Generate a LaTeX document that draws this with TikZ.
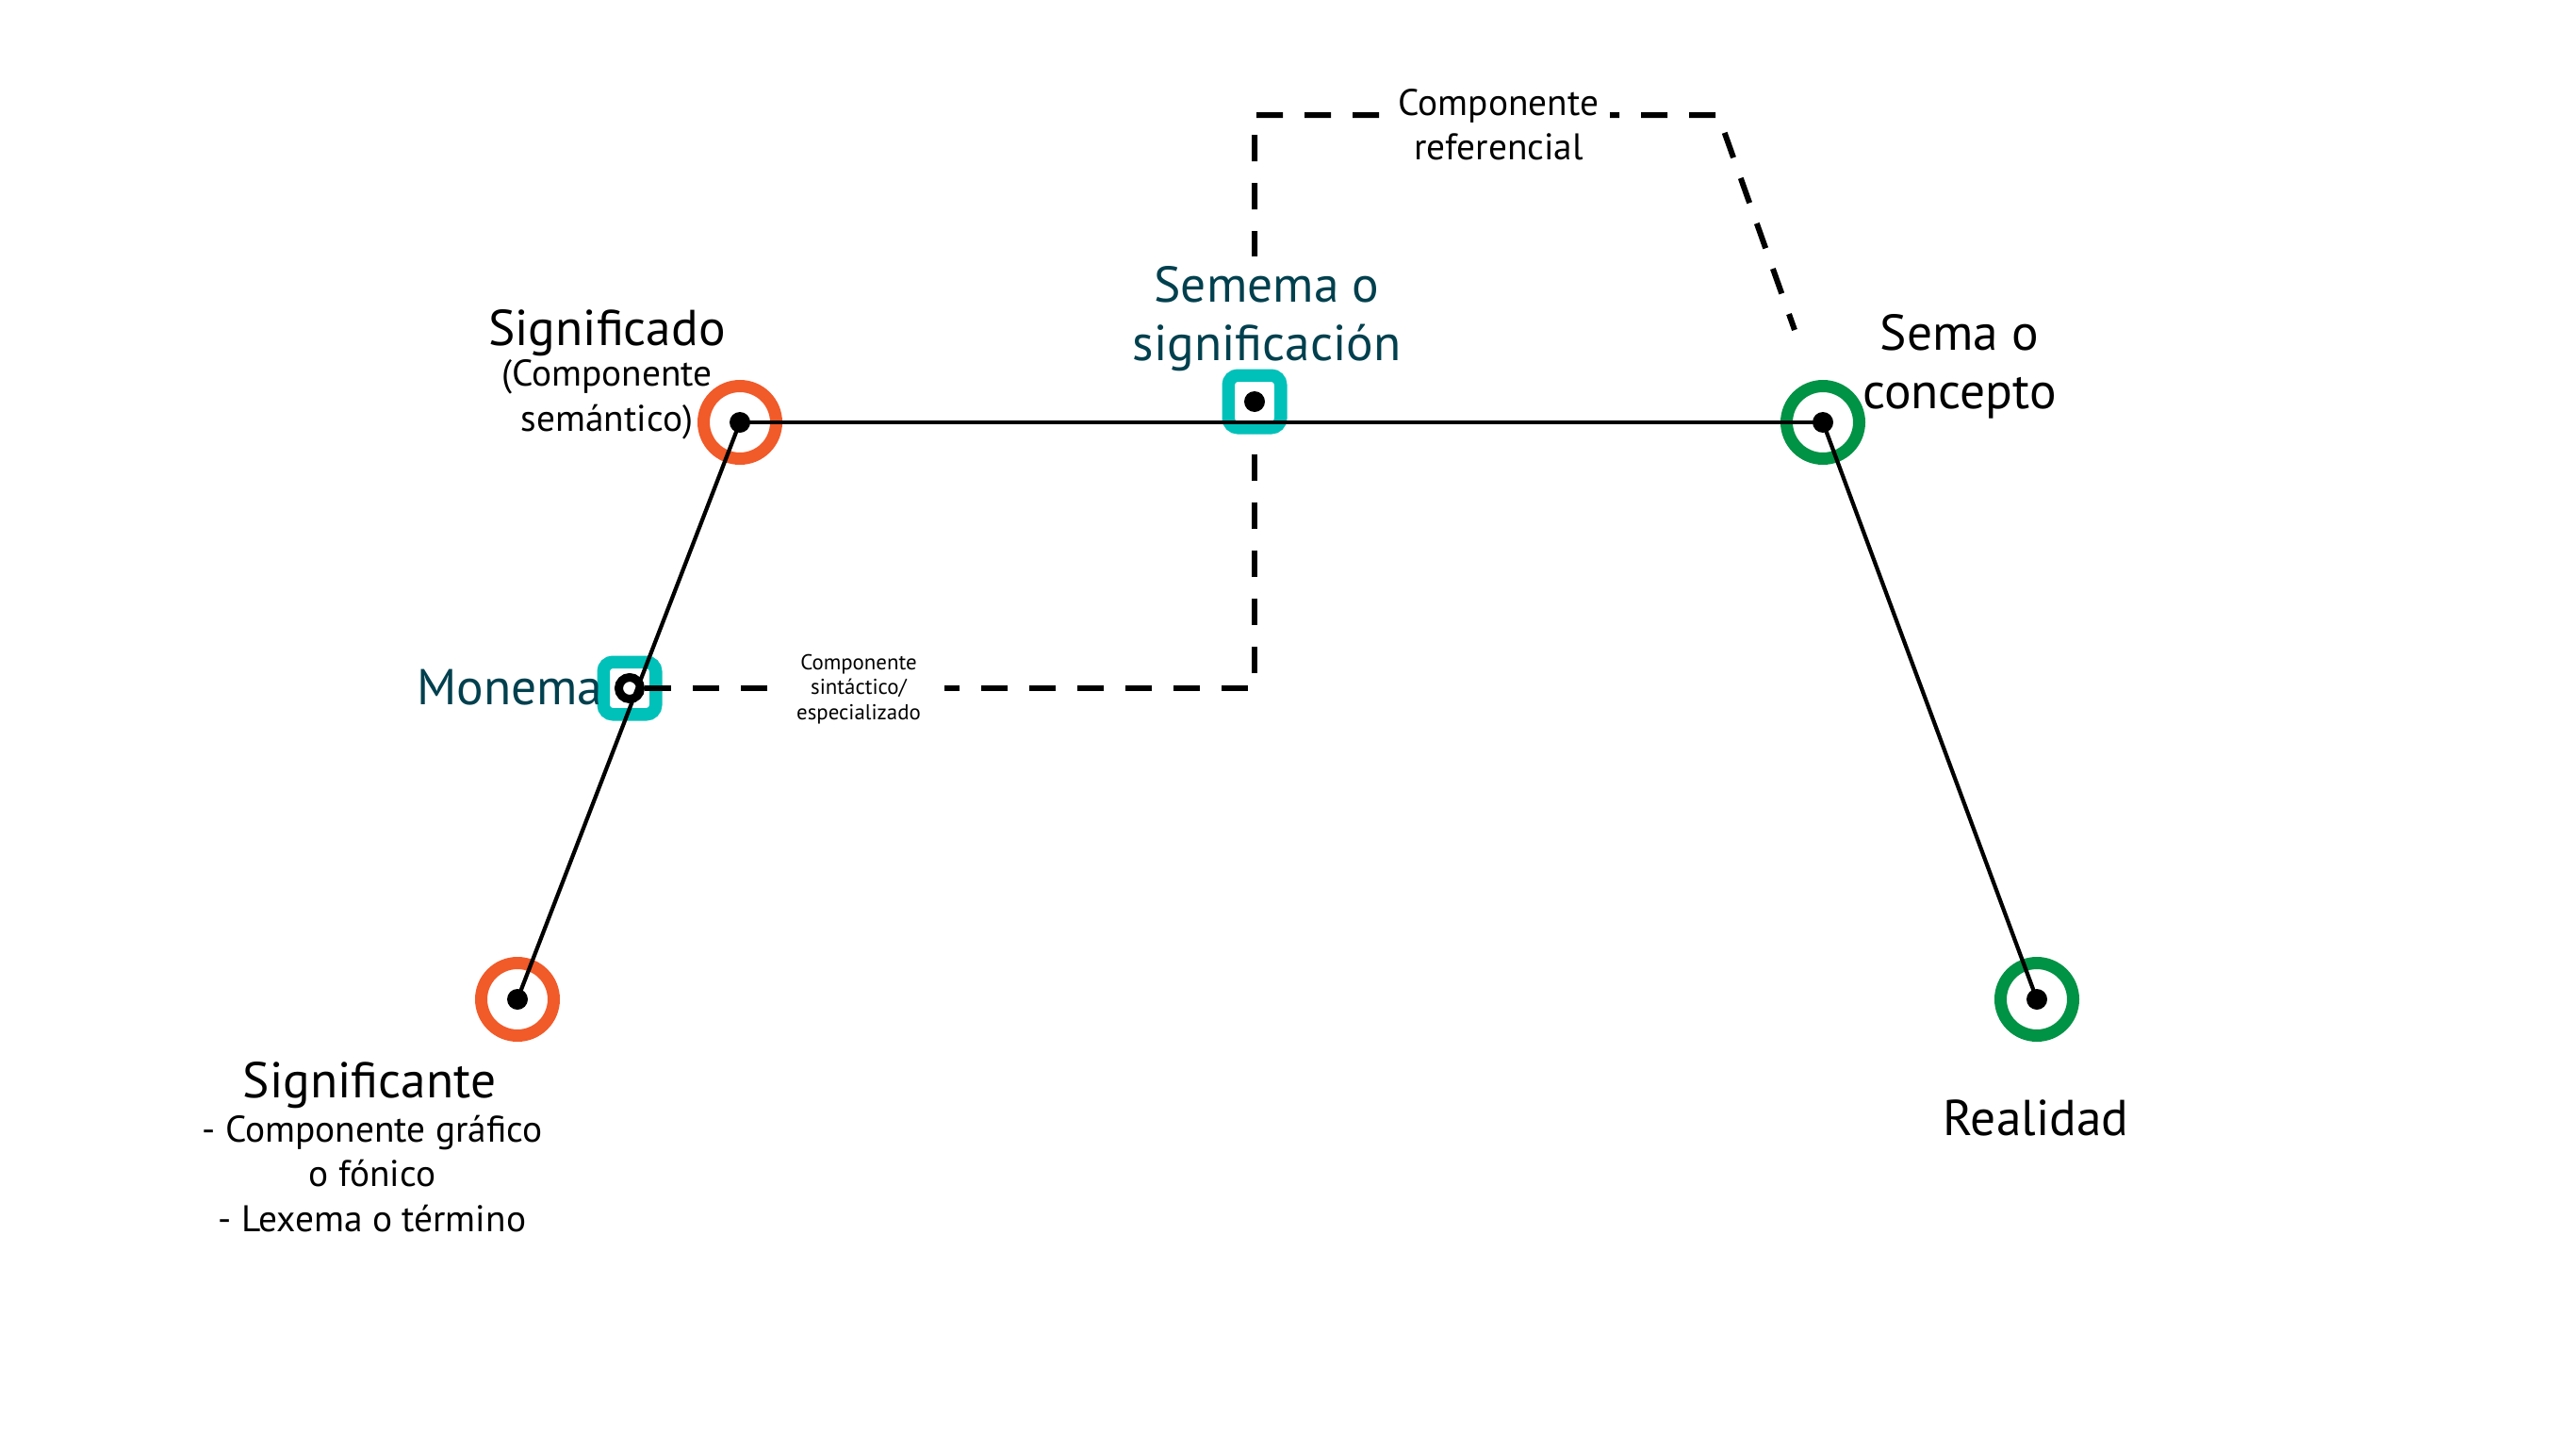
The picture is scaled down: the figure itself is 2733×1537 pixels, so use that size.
\documentclass[tikz,border=0pt]{standalone}
\usepackage{fontspec}
\setmainfont{PT Sans}
\usetikzlibrary{backgrounds,positioning}
\definecolor{orangesig}{HTML}{F15A29}
\definecolor{vertref}{HTML}{009245}
\definecolor{turquoise}{HTML}{00C1B9}
\definecolor{bleunuit}{HTML}{00404E}
\newcommand{\grand}{\fontsize{15.2}{17.8}\selectfont}
\newcommand{\moyen}{\fontsize{11.2}{13.5}\selectfont}
\newcommand{\petit}{\fontsize{6.5}{7.5}\selectfont}

\begin{document}
\begin{tikzpicture}[%
    x=0.1mm,y=-0.1mm,%
    show background rectangle,%
    tight background,%
    background rectangle/.style={fill=white}%
  ]
  % Triangle sémiotique

  %
  % Définitions
  %
  \tikzset{
    anneau/.style={circle, draw=#1, line width=1.3mm, minimum size=7.7mm, inner sep=0pt},
    carre/.style={rectangle, draw=turquoise, fill=white, line width=1.35mm,
      rounded corners=1mm, minimum size=5.55mm, inner sep=0pt},
    trait/.style={line width=1.2pt},
    tirets/.style={line width=0.6mm, dash pattern=on 2.8mm off 2.3mm},
    etiquette/.style={align=center, inner sep=0pt},
  }
  \useasboundingbox (0,0) rectangle (2733,1537);

  \pgfmathsetmacro{\xste}{549};%
  \pgfmathsetmacro{\xmon}{668};%
  \pgfmathsetmacro{\xsdo}{785};%
  \pgfmathsetmacro{\xsem}{1331};%
  \pgfmathsetmacro{\xsema}{1934};%
  \pgfmathsetmacro{\xreal}{2161};%

  \pgfmathsetmacro{\yref}{122};%
  \pgfmathsetmacro{\ysem}{426};%
  \pgfmathsetmacro{\yhaut}{448};%
  \pgfmathsetmacro{\ymon}{730};%
  \pgfmathsetmacro{\ybas}{1060};%

  %
  % Dessin
  %
  % Monème
  \node[carre] (monc) at (\xmon,\ymon) {};
  \node[circle, draw, fill=white, line width=0.9mm, minimum size=2.3mm, inner sep=0pt] (mon) at (\xmon,\ymon) {};

  % Composantes en tirets
  \coordinate (semc) at (\xsem,\ysem);
  \coordinate (refcoin) at (1823,\yref);
  \coordinate (reffin) at (1904,350);
  \draw[tirets] (mon.east) -| (semc);
  \draw[tirets] (semc) |- (refcoin) -- (reffin);

  % Étiquettes
  \node[etiquette, anchor=base] (lsdo) at (644,366) {\grand Significado};
  \node[etiquette, font=\moyen] (lsdob) at (644,424) {(Componente\\semántico)};
  \node[etiquette, font=\grand, text=bleunuit, fill=white, inner sep=1mm] (lsem) at (1344,338) {Semema o\\significación};
  \node[etiquette, font=\grand] (lsema) at (2079,389) {Sema o\\concepto};
  \node[etiquette, anchor=base] (lreal) at (2160,1204) {\grand Realidad};
  \node[etiquette, anchor=base east, text=bleunuit] (lmon) at (640,747) {\grand Monema};
  \node[etiquette, anchor=base] (lste) at (392,1164) {\grand Significante};
  \node[etiquette, font=\moyen] (lsteb) at (395,1245) {- Componente gráfico\\o fónico\\- Lexema o término};
  \node[etiquette, font=\moyen, fill=white, inner sep=1.2mm] (lref) at (1590,132) {Componente\\referencial};
  \node[etiquette, font=\petit, fill=white, inner xsep=2.5mm, inner ysep=1mm] (lsyn) at (911,731) {Componente\\sintáctico/\\especializado};

  % Cercles et carré du sémème
  \node[anneau=orangesig] (sdo) at (\xsdo,\yhaut) {};
  \node[anneau=orangesig] (ste) at (\xste,\ybas) {};
  \node[anneau=vertref] (sema) at (\xsema,\yhaut) {};
  \node[anneau=vertref] (real) at (\xreal,\ybas) {};
  \node[carre] (sem) at (semc) {};

  % Liaisons
  \draw[trait] (sdo.center) -- (ste.center);
  \draw[trait] (sdo.center) -- (sema.center);
  \draw[trait] (sema.center) -- (real.center);

  % Points
  \fill (sdo.center) circle[radius=1.1mm];
  \fill (ste.center) circle[radius=1.1mm];
  \fill (sema.center) circle[radius=1.1mm];
  \fill (real.center) circle[radius=1.1mm];
  \fill (sem.center) circle[radius=1.1mm];

\end{tikzpicture}
\end{document}
